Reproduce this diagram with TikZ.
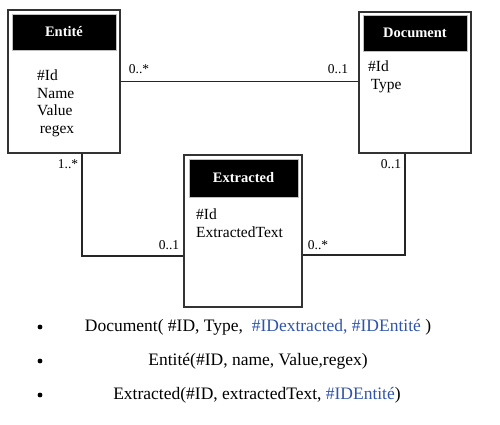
\documentclass[tikz,border=0pt]{standalone}
\usepackage{fontspec}
\setmainfont{Liberation Serif}
\usepackage{tikz}
\usetikzlibrary{calc}
\definecolor{fkblue}{RGB}{47,84,170}

\tikzset{
  entbox/.style={draw=black!80,line width=1.4pt,fill=white,inner sep=0pt},
  enthead/.style={fill=black,draw=black!25,line width=0.6pt,text=white,font=\fontsize{14.5}{16}\selectfont\bfseries,inner sep=0pt},
  attr/.style={anchor=north west,align=left,inner sep=0pt,font=\fontsize{15.5}{17.4}\selectfont},
  mult/.style={inner sep=0pt,font=\fontsize{13.5}{15}\selectfont},
  rel/.style={inner sep=0pt,font=\fontsize{17.5}{20}\selectfont}
}

\begin{document}
\begin{tikzpicture}[x=1pt,y=-1pt]
        \useasboundingbox (0,0) rectangle (500,425);
        % the three tables
        \node[entbox,minimum width=112,minimum height=143] (ent) at (64,81.5) {};
        \node[enthead,minimum width=104,minimum height=36] (enthd) at (64,32) {Entité};
        \node[attr] (entattr) at (37,70) {\#Id\\Name\\Value\\\,regex};
        \node[entbox,minimum width=112,minimum height=141] (doc) at (415,82.5) {};
        \node[enthead,minimum width=104,minimum height=36] (dochd) at (415,33) {Document};
        \node[attr] (docattr) at (368,61) {\#Id\\\,Type};
        \node[entbox,minimum width=118,minimum height=152] (ext) at (243,231) {};
        \node[enthead,minimum width=109,minimum height=38] (exthd) at (243.5,178) {Extracted};
        \node[attr] (extattr) at (196,209) {\#Id\\ExtractedText};
        % associations
        \coordinate (entlow) at ($(ent.south)+(18,0)$);
        \coordinate (doclow) at ($(doc.south)+(-10,0)$);
        \draw[line width=1.4pt,black!85] (ent.east) -- (doc.west |- ent.east);
        \draw[line width=1.4pt,black!85] (entlow) |- ($(ext.west)+(0,25)$);
        \draw[line width=1.4pt,black!85] (doclow) |- ($(ext.east)+(0,24)$);
        % multiplicities
        \node[mult] (m1) at (139,69) {0..*};
        \node[mult] (m2) at (338,69) {0..1};
        \node[mult] (m3) at (68,164) {1..*};
        \node[mult] (m4) at (391,164) {0..1};
        \node[mult] (m5) at (169,245) {0..1};
        \node[mult] (m6) at (318,245) {0..*};
        % relational schema
        \foreach \y in {327,361,395}
          \fill (40,\y) circle(2.4pt);
        \node[rel] (r1) at (258,327) {Document( \#ID, Type,\ \ \textcolor{fkblue}{\#IDextracted, \#IDEntité} )};
        \node[rel] (r2) at (258,361) {Entité(\#ID, name, Value,regex)};
        \node[rel] (r3) at (257,395) {Extracted(\#ID, extractedText, \textcolor{fkblue}{\#IDEntité})};
      \end{tikzpicture}
\end{document}
